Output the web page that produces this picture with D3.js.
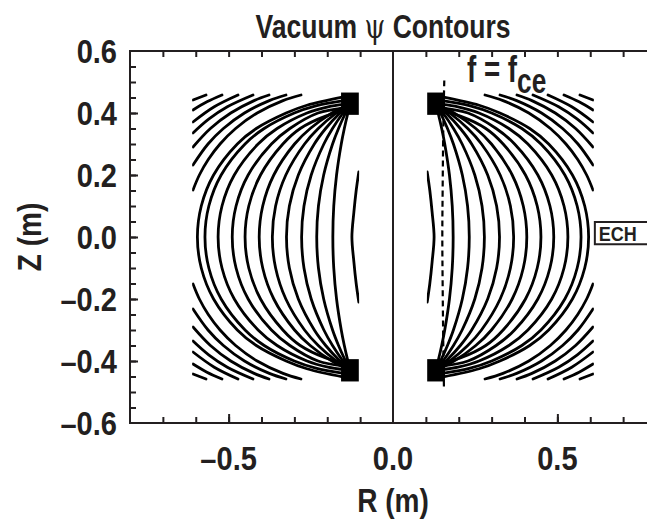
<!DOCTYPE html>
<html>
<head>
<meta charset="utf-8">
<script src="https://cdn.jsdelivr.net/npm/d3@7"></script>
<style>
  body { margin: 0; background: #fff; }
  text { font-family: "Liberation Sans", Arial, sans-serif; font-weight: bold; fill: #231f20; }
  .axis path { display: none; }
  .axis line { stroke: #231f20; stroke-width: 2; }
</style>
</head>
<body>
<div id="chart"></div>
<script>
// tick values
var rLabels = [-0.5, 0.0, 0.5];
var rMinor = [-0.7, -0.6, -0.5, -0.4, -0.3, -0.2, -0.1, 0.1, 0.2, 0.3, 0.4, 0.5, 0.6, 0.7];
var zLabels = [-0.6, -0.4, -0.2, 0.0, 0.2, 0.4, 0.6];
var zMinor = [-0.55, -0.5, -0.45, -0.4, -0.35, -0.3, -0.25, -0.2, -0.15, -0.1, -0.05, 0,
              0.05, 0.1, 0.15, 0.2, 0.25, 0.3, 0.35, 0.4, 0.45, 0.5, 0.55];
var zMajor = [-0.4, -0.2, 0, 0.2, 0.4];

// psi contours, upper right quadrant, [R, Z] in m (mirrored for the other quadrants)
// lines that leave the coil and cross the midplane
var openLines = [
  [[0.104, 0.21], [0.112, 0.15], [0.119, 0.08], [0.125, 0]],
  [[0.13, 0.43], [0.1372, 0.40], [0.1481, 0.35], [0.1574, 0.30], [0.1717, 0.20], [0.1802, 0.10], [0.183, 0]],
  [[0.13, 0.43], [0.1444, 0.40], [0.1657, 0.35], [0.1838, 0.30], [0.2109, 0.20], [0.2268, 0.10], [0.232, 0]],
  [[0.13, 0.43], [0.1522, 0.40], [0.1840, 0.35], [0.2103, 0.30], [0.2488, 0.20], [0.2708, 0.10], [0.278, 0]],
  [[0.13, 0.43], [0.1615, 0.40], [0.2048, 0.35], [0.2393, 0.30], [0.2880, 0.20], [0.3152, 0.10], [0.324, 0]],
  [[0.13, 0.43], [0.1725, 0.40], [0.2274, 0.35], [0.2691, 0.30], [0.3260, 0.20], [0.3571, 0.10], [0.367, 0]],
  [[0.13, 0.43], [0.1858, 0.40], [0.2518, 0.35], [0.2995, 0.30], [0.3626, 0.20], [0.3963, 0.10], [0.407, 0]],
  [[0.15, 0.405], [0.2048, 0.39], [0.2822, 0.35], [0.3350, 0.30], [0.4030, 0.20], [0.4387, 0.10], [0.450, 0]],
  [[0.15, 0.416], [0.2280, 0.40], [0.3137, 0.35], [0.3698, 0.30], [0.4406, 0.20], [0.4774, 0.10], [0.489, 0]],
  [[0.15, 0.428], [0.1976, 0.42], [0.2615, 0.40], [0.3525, 0.35], [0.4104, 0.30], [0.4828, 0.20], [0.5202, 0.10], [0.532, 0]],
  [[0.15, 0.44], [0.2348, 0.423], [0.3001, 0.40], [0.3919, 0.35], [0.4501, 0.30], [0.5227, 0.20], [0.5602, 0.10], [0.572, 0]],
  [[0.15, 0.452], [0.2619, 0.425], [0.3251, 0.40], [0.4158, 0.35], [0.4736, 0.30], [0.5458, 0.20], [0.5832, 0.10], [0.595, 0]]
];
// lines that run from the top edge to the outer edge
var cornerLines = [
  [[0.2798, 0.458], [0.3346, 0.44], [0.4131, 0.40], [0.4787, 0.35], [0.5261, 0.30], [0.5619, 0.25], [0.589, 0.20], [0.6084, 0.1516]],
  [[0.3255, 0.458], [0.3762, 0.44], [0.4518, 0.40], [0.5159, 0.35], [0.5627, 0.30], [0.6084, 0.2323]],
  [[0.3772, 0.458], [0.4225, 0.44], [0.4935, 0.40], [0.5554, 0.35], [0.6084, 0.2903]],
  [[0.4259, 0.458], [0.5039, 0.42], [0.5607, 0.38], [0.6084, 0.3355]],
  [[0.4715, 0.458], [0.5437, 0.42], [0.6084, 0.3710]],
  [[0.5202, 0.458], [0.566, 0.436], [0.6084, 0.4097]],
  [[0.5688, 0.458], [0.6084, 0.4419]]
];
// coil cross section (R range, Z range)
var coilR = [0.104, 0.158];
var coilZ = [0.394, 0.466];
// f = fce resonance (right side)
var resonance = [[0.156, 0.505], [0.153, 0.35], [0.151, 0.15], [0.150, 0], [0.151, -0.15], [0.153, -0.35], [0.155, -0.487]];

var width = 647, height = 519;
var svg = d3.select('#chart').append('svg')
  .attr('width', width)
  .attr('height', height);

var x = d3.scaleLinear().domain([-0.8, 0.8]).range([130, 656]);
var y = d3.scaleLinear().domain([-0.6, 0.6]).range([423, 51]);

// contours
var line = d3.line()
  .x(function(d) { return x(d[0]); })
  .y(function(d) { return y(d[1]); })
  .curve(d3.curveCatmullRom.alpha(0.5));

var mirrorZ = function(pts) {
  return pts.map(function(p) { return [p[0], -p[1]]; });
};
var fullLine = function(pts) {
  var lower = pts.slice(0, -1).reverse().map(function(p) { return [p[0], -p[1]]; });
  return pts.concat(lower);
};

var defs = svg.append('defs');
[1, -1].forEach(function(s, i) {
  var r0 = s > 0 ? 0.103 : -0.611, r1 = s > 0 ? 0.611 : -0.103;
  defs.append('clipPath').attr('id', 'clip' + i)
    .append('rect')
    .attr('x', x(r0)).attr('y', y(0.47))
    .attr('width', x(r1) - x(r0))
    .attr('height', y(-0.47) - y(0.47));
});

[1, -1].forEach(function(s, i) {
  var side = svg.append('g').attr('class', 'contours').attr('clip-path', 'url(#clip' + i + ')');
  var flip = function(pts) { return pts.map(function(p) { return [s * p[0], p[1]]; }); };
  var paths = [];
  openLines.forEach(function(pts) { paths.push(flip(fullLine(pts))); });
  cornerLines.forEach(function(pts) {
    paths.push(flip(pts));
    paths.push(flip(mirrorZ(pts)));
  });
  side.selectAll('path').data(paths).enter()
    .append('path')
    .attr('d', line)
    .attr('fill', 'none')
    .attr('stroke', '#000')
    .attr('stroke-width', 2.8)
    .attr('stroke-linecap', 'round');

  // coil blobs
  [1, -1].forEach(function(t) {
    var ra = s * coilR[0], rb = s * coilR[1];
    var za = t * coilZ[0], zb = t * coilZ[1];
    side.append('rect')
      .attr('x', Math.min(x(ra), x(rb)))
      .attr('y', Math.min(y(za), y(zb)))
      .attr('width', Math.abs(x(rb) - x(ra)))
      .attr('height', Math.abs(y(zb) - y(za)))
      .attr('fill', '#000');
  });
});

// resonance line
svg.append('path')
  .datum(resonance)
  .attr('d', line)
  .attr('fill', 'none')
  .attr('stroke', '#000')
  .attr('stroke-width', 2.2)
  .attr('stroke-dasharray', '6,4');

// frame and axes
svg.append('rect')
  .attr('x', x(-0.8)).attr('y', y(0.6))
  .attr('width', x(0.8) - x(-0.8))
  .attr('height', y(-0.6) - y(0.6))
  .attr('fill', 'none')
  .attr('stroke', '#231f20')
  .attr('stroke-width', 2);

svg.append('line')
  .attr('x1', x(0)).attr('x2', x(0))
  .attr('y1', y(0.6)).attr('y2', y(-0.6))
  .attr('stroke', '#231f20')
  .attr('stroke-width', 2);

svg.append('g').attr('class', 'axis')
  .attr('transform', 'translate(0,' + y(-0.6) + ')')
  .call(d3.axisBottom(x).tickValues(rMinor).tickSize(-6).tickFormat(''));
svg.append('g').attr('class', 'axis')
  .attr('transform', 'translate(0,' + y(-0.6) + ')')
  .call(d3.axisBottom(x).tickValues([-0.5, 0.5]).tickSize(-9).tickFormat(''));
svg.append('g').attr('class', 'axis')
  .attr('transform', 'translate(0,' + y(0.6) + ')')
  .call(d3.axisTop(x).tickValues(rMinor).tickSize(-6).tickFormat(''));
svg.append('g').attr('class', 'axis')
  .attr('transform', 'translate(' + x(-0.8) + ',0)')
  .call(d3.axisLeft(y).tickValues(zMinor).tickSize(-6).tickFormat(''));
svg.append('g').attr('class', 'axis')
  .attr('transform', 'translate(' + x(-0.8) + ',0)')
  .call(d3.axisLeft(y).tickValues(zMajor).tickSize(-8).tickFormat(''));

var fmt = function(d) { return (d < 0 ? '\u2013' : '') + Math.abs(d).toFixed(1); };

// tick labels
svg.selectAll('.x-label').data(rLabels).enter()
  .append('text').attr('class', 'x-label')
  .attr('text-anchor', 'middle')
  .attr('font-size', 33)
  .attr('transform', function(d) { return 'translate(' + x(d) + ',470) scale(0.88,1)'; })
  .text(fmt);

svg.selectAll('.y-label').data(zLabels).enter()
  .append('text').attr('class', 'y-label')
  .attr('text-anchor', 'end')
  .attr('font-size', 33)
  .attr('transform', function(d) { return 'translate(117,' + (y(d) + 12) + ') scale(0.88,1)'; })
  .text(fmt);

// axis titles
svg.append('text')
  .attr('text-anchor', 'middle')
  .attr('font-size', 33)
  .attr('transform', 'translate(' + x(0) + ',512) scale(0.85,1)')
  .text('R (m)');

svg.append('text')
  .attr('text-anchor', 'middle')
  .attr('font-size', 33)
  .attr('transform', 'translate(41,' + y(0) + ') rotate(-90) scale(0.85,1)')
  .text('Z (m)');

// title
var title = svg.append('text')
  .attr('text-anchor', 'middle')
  .attr('font-size', 34)
  .attr('transform', 'translate(383,38) scale(0.78,1)');
title.append('tspan').text('Vacuum ');
title.append('tspan').attr('font-family', '"DejaVu Serif", "Liberation Serif", serif')
  .attr('font-weight', 'normal').text('\u03C8');
title.append('tspan').text(' Contours');

// f = fce
var fce = svg.append('text')
  .attr('font-size', 37)
  .attr('transform', 'translate(467,82) scale(0.75,1)');
fce.append('tspan').text('f = f');
fce.append('tspan').attr('font-size', 35).attr('dy', 11).text('ce');

// ECH box
var echTop = 0.048, echBottom = -0.023, echLeft = 0.614;
svg.append('path')
  .attr('d', 'M' + width + ',' + y(echTop) + 'H' + x(echLeft) + 'V' + y(echBottom) + 'H' + width)
  .attr('fill', 'none')
  .attr('stroke', '#231f20')
  .attr('stroke-width', 2);
svg.append('text')
  .attr('font-size', 20)
  .attr('transform', 'translate(' + (x(echLeft) + 4) + ',' + (y(echBottom) - 3) + ') scale(0.9,1)')
  .text('ECH');
</script>
</body>
</html>
